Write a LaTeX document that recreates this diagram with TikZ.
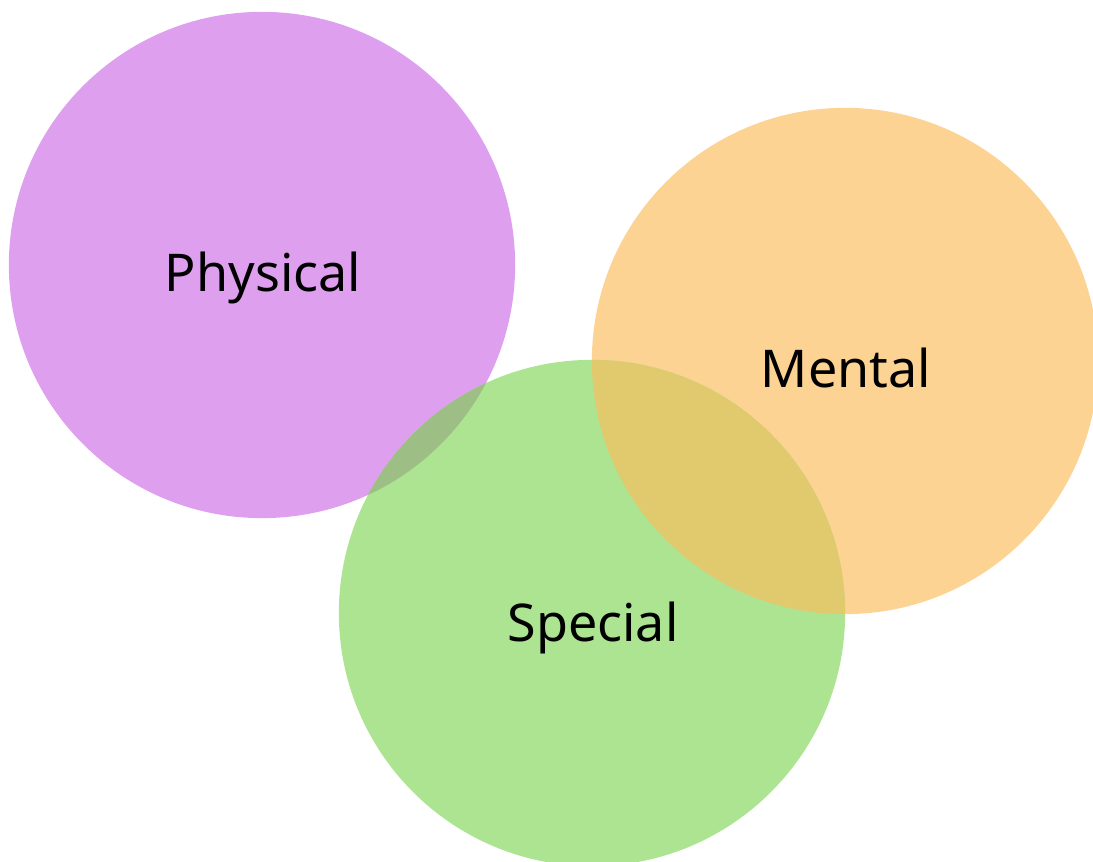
\documentclass[tikz,border=0pt]{standalone}
\usepackage{fontspec}
\setmainfont{Noto Sans}
\definecolor{physcol}{RGB}{221,159,238}
\definecolor{mentcol}{RGB}{253,211,148}
\definecolor{speccol}{RGB}{172,228,145}
\definecolor{physspec}{RGB}{157,190,132}
\definecolor{specment}{RGB}{225,202,110}
\tikzset{
  circlabel/.style={anchor=base,inner sep=0pt,font=\fontsize{14.8}{17}\selectfont}
}
\begin{document}
\begin{tikzpicture}[x=0.01cm,y=-0.01cm]
      \path[use as bounding box,clip] (0,0) rectangle (1093,862);

      \path[fill=physcol] (262,265) circle[radius=2.53cm];
      \path[fill=mentcol] (845,361) circle[radius=2.53cm];
      \path[fill=speccol] (592,613) circle[radius=2.53cm];

      % overlaps
      \begin{scope}
        \clip (262,265) circle[radius=2.53cm];
        \path[fill=physspec] (592,613) circle[radius=2.53cm];
      \end{scope}
      \begin{scope}
        \clip (845,361) circle[radius=2.53cm];
        \path[fill=specment] (592,613) circle[radius=2.53cm];
      \end{scope}

      \node[circlabel] (physical) at (263,292) {Physical};
      \node[circlabel] (mental) at (846,388) {Mental};
      \node[circlabel] (special) at (593,642) {Special};
   \end{tikzpicture}
\end{document}
